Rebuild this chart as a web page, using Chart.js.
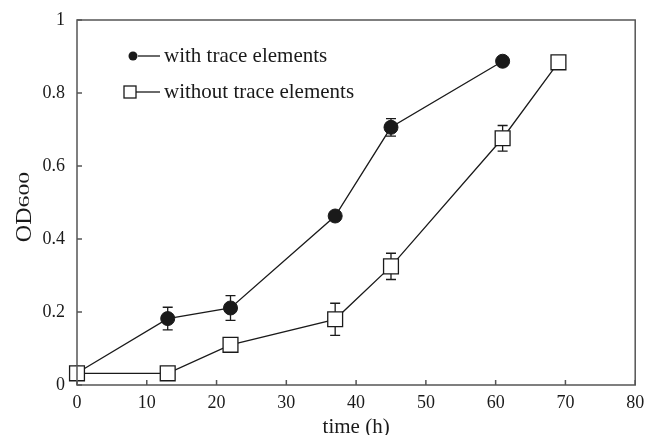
<!DOCTYPE html>
<html>
<head>
<meta charset="utf-8">
<script src="https://cdn.jsdelivr.net/npm/chart.js@4.4.1/dist/chart.umd.min.js"></script>
<style>
  html, body { margin: 0; padding: 0; background: #fff; }
  #wrap { width: 647px; height: 435px; }
</style>
</head>
<body>
<div id="wrap"><canvas id="growthChart"></canvas></div>
<script>
// growth curve, OD600 vs time

const seriesNames = ["with trace elements", "without trace elements"];

const timeWith = [0, 13, 22, 37, 45, 61];
const odWith = [0.033, 0.182, 0.211, 0.463, 0.706, 0.887];
const errWith = [0, 0.031, 0.034, 0, 0.024, 0];

const timeWithout = [0, 13, 22, 37, 45, 61, 69];
const odWithout = [0.032, 0.032, 0.11, 0.180, 0.325, 0.676, 0.884];
const errWithout = [0, 0, 0, 0.044, 0.036, 0.035, 0];

const xTitle = "time (h)";
const yTitleMain = "OD";
const yTitleSub = "600";

const serif = "'Liberation Serif', 'DejaVu Serif', serif";
const ink = "#1a1a1a";
const axisInk = "#555";

function toPoints(xs, ys) {
    return xs.map((x, i) => ({ x: x, y: ys[i] }));
}

// frame, inner ticks, error bars, legend and y title
const decorations = {
    id: "decorations",
    beforeDatasetsDraw(chart) {
        const ctx = chart.ctx;
        const xs = chart.scales.x;
        const ys = chart.scales.y;
        const sets = [
            [timeWith, odWith, errWith],
            [timeWithout, odWithout, errWithout],
        ];
        ctx.save();
        ctx.strokeStyle = ink;
        ctx.lineWidth = 1.3;
        sets.forEach(([t, v, e]) => {
            t.forEach((x, i) => {
                if (!e[i]) return;
                const px = xs.getPixelForValue(x);
                const top = ys.getPixelForValue(v[i] + e[i]);
                const bot = ys.getPixelForValue(v[i] - e[i]);
                ctx.beginPath();
                ctx.moveTo(px, top);
                ctx.lineTo(px, bot);
                ctx.moveTo(px - 5, top);
                ctx.lineTo(px + 5, top);
                ctx.moveTo(px - 5, bot);
                ctx.lineTo(px + 5, bot);
                ctx.stroke();
            });
        });
        ctx.restore();
    },
    afterDraw(chart) {
        const ctx = chart.ctx;
        const a = chart.chartArea;
        const xs = chart.scales.x;
        const ys = chart.scales.y;
        ctx.save();

        // box
        ctx.strokeStyle = axisInk;
        ctx.lineWidth = 1.5;
        ctx.strokeRect(a.left, a.top, a.right - a.left, a.bottom - a.top);

        // ticks pointing inwards
        ctx.beginPath();
        xs.ticks.forEach((t, i) => {
            const px = xs.getPixelForTick(i);
            ctx.moveTo(px, a.bottom);
            ctx.lineTo(px, a.bottom - 5);
        });
        ys.ticks.forEach((t, i) => {
            const py = ys.getPixelForTick(i);
            ctx.moveTo(a.left, py);
            ctx.lineTo(a.left + 5, py);
        });
        ctx.stroke();

        // legend
        ctx.fillStyle = ink;
        ctx.strokeStyle = ink;
        ctx.lineWidth = 1.3;
        ctx.font = "21px " + serif;
        ctx.textBaseline = "middle";
        const rows = [56, 92];
        ctx.beginPath();
        ctx.arc(133, rows[0], 4.5, 0, Math.PI * 2);
        ctx.fill();
        ctx.beginPath();
        ctx.moveTo(138, rows[0]);
        ctx.lineTo(160, rows[0]);
        ctx.stroke();
        ctx.fillText(seriesNames[0], 164, rows[0]);

        ctx.fillStyle = "#fff";
        ctx.fillRect(124, rows[1] - 6, 12, 12);
        ctx.strokeRect(124, rows[1] - 6, 12, 12);
        ctx.beginPath();
        ctx.moveTo(136, rows[1]);
        ctx.lineTo(160, rows[1]);
        ctx.stroke();
        ctx.fillStyle = ink;
        ctx.fillText(seriesNames[1], 164, rows[1]);

        // y title with small, wide "600"
        ctx.translate(25, 207);
        ctx.rotate(-Math.PI / 2);
        ctx.textBaseline = "middle";
        ctx.textAlign = "left";
        ctx.font = "24px " + serif;
        const w1 = ctx.measureText(yTitleMain).width;
        ctx.font = "14px " + serif;
        const stretch = 1.7;
        const w2 = ctx.measureText(yTitleSub).width * stretch;
        const start = -(w1 + w2) / 2;
        ctx.font = "24px " + serif;
        ctx.fillText(yTitleMain, start, 0);
        ctx.font = "14px " + serif;
        ctx.translate(start + w1, 0);
        ctx.scale(stretch, 1);
        ctx.fillText(yTitleSub, 0, 0);
        ctx.restore();
    },
};

const ctx = document.getElementById("growthChart").getContext("2d");
new Chart(ctx, {
    type: "line",
    data: {
        datasets: [
            {
                label: seriesNames[0],
                data: toPoints(timeWith, odWith),
                borderColor: ink,
                borderWidth: 1.3,
                pointStyle: "circle",
                pointRadius: 7,
                pointBackgroundColor: ink,
                pointBorderColor: ink,
                pointBorderWidth: 1,
                tension: 0,
                clip: false,
                order: 2,
            },
            {
                label: seriesNames[1],
                data: toPoints(timeWithout, odWithout),
                borderColor: ink,
                borderWidth: 1.3,
                pointStyle: "rect",
                pointRadius: 10.5,
                pointBackgroundColor: "#fff",
                pointBorderColor: ink,
                pointBorderWidth: 1.3,
                tension: 0,
                clip: false,
                order: 1,
            },
        ],
    },
    options: {
        responsive: true,
        maintainAspectRatio: false,
        animation: false,
        layout: { padding: { top: 20, right: 6, left: 0, bottom: 0 } },
        plugins: {
            legend: { display: false },
            tooltip: { enabled: false },
        },
        scales: {
            x: {
                type: "linear",
                min: 0,
                max: 80,
                ticks: { stepSize: 10, color: ink, padding: 7, font: { family: serif, size: 18 } },
                grid: { display: false, drawTicks: false },
                border: { display: false },
                title: {
                    display: true,
                    text: xTitle,
                    color: ink,
                    padding: { top: 0, bottom: -3 },
                    font: { family: serif, size: 21, lineHeight: 1 },
                },
                afterFit(scale) {
                    scale.height = 50;
                    scale.paddingLeft = 0;
                    scale.paddingRight = 0;
                },
            },
            y: {
                min: 0,
                max: 1,
                ticks: {
                    stepSize: 0.2,
                    color: ink,
                    padding: 12,
                    font: { family: serif, size: 18 },
                    callback: (v) => (Math.round(v * 10) / 10).toString(),
                },
                grid: { display: false, drawTicks: false },
                border: { display: false },
                afterFit(scale) {
                    scale.width = 77;
                    scale.paddingTop = 0;
                    scale.paddingBottom = 0;
                },
            },
        },
    },
    plugins: [decorations],
});
</script>
</body>
</html>
